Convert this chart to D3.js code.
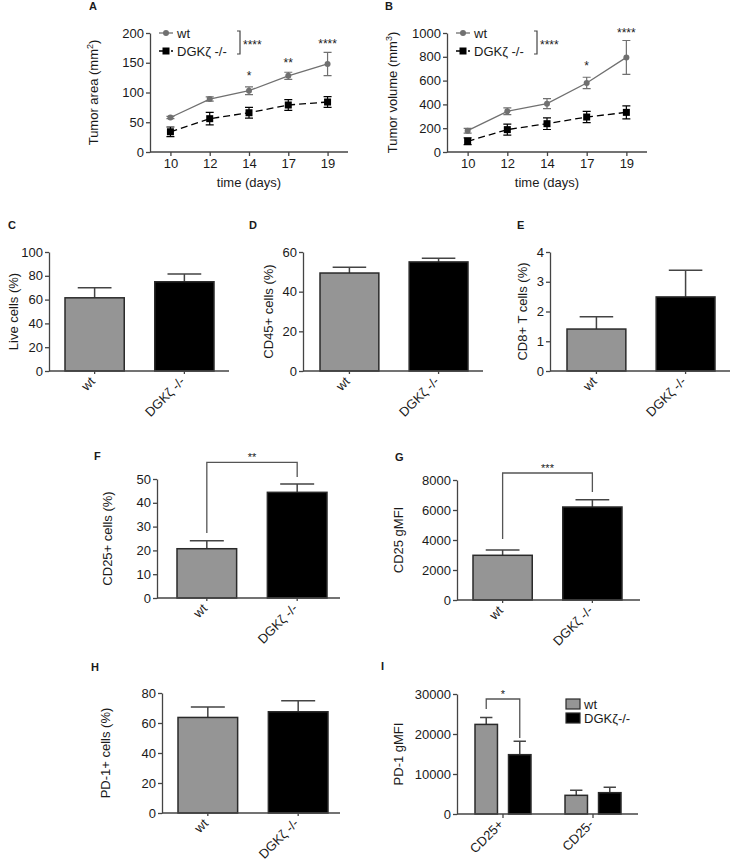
<!DOCTYPE html>
<html><head><meta charset="utf-8">
<script src="https://cdn.jsdelivr.net/npm/d3@7"></script>
<style>
body{margin:0;background:#fff}
svg{display:block}
text{font-family:"Liberation Sans",Arial,Helvetica,sans-serif;fill:#1a1a1a}
</style>
</head><body>
<svg id="c" width="731" height="861"></svg>
<script>
// ---------- DATA ----------
const days = ["10", "12", "14", "17", "19"];
const areaWt = [58, 89, 103, 128, 148];
const areaWtErr = [2, 3.5, 6.5, 6, 19.5];
const areaKo = [34, 56, 66, 79, 84];
const areaKoErr = [8, 10.5, 9, 9, 9];
const areaStars = ["", "", "*", "**", "****"];
const areaStarLevel = [null, null, 121, 143, 175];
const volWt = [179, 342, 406, 580, 795];
const volWtErr = [20, 28, 42, 48, 142];
const volKo = [90, 188, 238, 294, 333];
const volKoErr = [28, 46, 49, 47, 54];
const volStars = ["", "", "", "*", "****"];
const volStarLevel = [null, null, null, 690, 970];
const seriesNames = ["wt", "DGKζ -/-"];

const genotypes = ["wt", "DGKζ -/-"];
const liveCells = [61.5, 75];
const liveCellsErr = [8.5, 6.5];
const cd45Cells = [49.4, 55];
const cd45CellsErr = [2.9, 1.8];
const cd8Cells = [1.41, 2.49];
const cd8CellsErr = [0.41, 0.9];
const cd25Cells = [20.7, 44.4];
const cd25CellsErr = [3.4, 3.5];
const cd25Gmfi = [2980, 6200];
const cd25GmfiErr = [355, 490];
const pd1Cells = [63.7, 67.5];
const pd1CellsErr = [7, 7.4];

const pd1Groups = ["CD25+", "CD25-"];
const pd1GmfiWt = [22400, 4670];
const pd1GmfiWtErr = [1700, 1250];
const pd1GmfiKo = [14830, 5330];
const pd1GmfiKoErr = [3330, 1330];
const pd1Legend = ["wt", "DGKζ-/-"];

// ---------- STYLE ----------
const AX = "#444", GREY = "#959595", WTLINE = "#707070", ERR = "#444";
const FS = 13;
const svg = d3.select("#c");

function styleAxis(g) {
  g.selectAll("path.domain").attr("stroke", AX).attr("stroke-width", 1.3);
  g.selectAll(".tick line").attr("stroke", AX).attr("stroke-width", 1.3);
  g.selectAll(".tick text").attr("font-size", FS).attr("fill", "#1a1a1a")
    .style("font-family", '"Liberation Sans",Arial,sans-serif');
}
function letter(t, x, y) {
  svg.append("text").attr("x", x).attr("y", y).attr("font-size", 11)
    .attr("font-weight", "bold").text(t);
}
function yTitle(x, yc, parts) {
  const t = svg.append("text").attr("transform", `translate(${x},${yc}) rotate(-90)`)
    .attr("text-anchor", "middle").attr("dy", "0.35em").attr("font-size", FS);
  parts.forEach(p => {
    const s = t.append("tspan").text(p.t);
    if (p.sup) s.attr("font-size", 9).attr("dy", -5);
    if (p.after) s.attr("dy", 5);
  });
}

// ---------- LINE PANELS ----------
function linePanel(o) {
  const x = d3.scalePoint().domain(days).range([o.x0, o.x1]).padding(0.52);
  const y = d3.scaleLinear().domain([0, o.max]).range([o.yBot, o.yTop]);
  const gx = svg.append("g").attr("transform", `translate(0,${o.yBot})`)
    .call(d3.axisBottom(x).tickSize(4).tickPadding(3).tickSizeOuter(0));
  gx.select(".domain").attr("d", `M${o.x0},0H${o.x1}`);
  styleAxis(gx);
  const gy = svg.append("g").attr("transform", `translate(${o.x0},0)`)
    .call(d3.axisLeft(y).tickValues(o.ticks).tickFormat(d3.format("d")).tickSize(4).tickPadding(2).tickSizeOuter(0));
  styleAxis(gy);
  svg.append("text").attr("x", (o.x0 + o.x1) / 2).attr("y", o.yBot + 35)
    .attr("text-anchor", "middle").attr("font-size", FS).text("time (days)");
  yTitle(o.ylabelX, (o.yTop + o.yBot) / 2, o.ylabel);

  const series = [
    {v: o.wt, e: o.wtErr, color: WTLINE, dash: null, shape: "circle"},
    {v: o.ko, e: o.koErr, color: "#000", dash: "7,4", shape: "square"}
  ];
  series.forEach(s => {
    const line = d3.line().x((d, i) => x(days[i])).y(d => y(d));
    svg.append("path").attr("d", line(s.v)).attr("fill", "none")
      .attr("stroke", s.color).attr("stroke-width", 1.3).attr("stroke-dasharray", s.dash);
    s.v.forEach((v, i) => {
      const cx = x(days[i]);
      const t = y(v + s.e[i]), b = y(v - s.e[i]);
      svg.append("path").attr("d", `M${cx},${t}V${b}M${cx - 4},${t}H${cx + 4}M${cx - 4},${b}H${cx + 4}`)
        .attr("stroke", s.color).attr("stroke-width", 1.2).attr("fill", "none");
      if (s.shape === "circle")
        svg.append("circle").attr("cx", cx).attr("cy", y(v)).attr("r", 3).attr("fill", s.color);
      else
        svg.append("rect").attr("x", cx - 3.5).attr("y", y(v) - 3.5).attr("width", 7).attr("height", 7).attr("fill", s.color);
    });
  });
  o.stars.forEach((s, i) => {
    if (!s) return;
    svg.append("text").attr("x", x(days[i])).attr("y", y(o.starLevel[i]))
      .attr("text-anchor", "middle").attr("font-size", 12).text(s);
  });
  const lx = o.x0 + 9, ly = [o.yTop, o.yTop + 18];
  series.forEach((s, i) => {
    svg.append("line").attr("x1", lx).attr("x2", lx + 14).attr("y1", ly[i]).attr("y2", ly[i])
      .attr("stroke", s.color).attr("stroke-width", 1.3).attr("stroke-dasharray", s.dash ? "4,2" : null);
    if (s.shape === "circle")
      svg.append("circle").attr("cx", lx + 7).attr("cy", ly[i]).attr("r", 3).attr("fill", s.color);
    else
      svg.append("rect").attr("x", lx + 3.5).attr("y", ly[i] - 3.5).attr("width", 7).attr("height", 7).attr("fill", s.color);
    svg.append("text").attr("x", lx + 18).attr("y", ly[i]).attr("dy", "0.35em")
      .attr("font-size", FS).text(seriesNames[i]);
  });
  const bx = o.x0 + 90;
  svg.append("path").attr("d", `M${bx - 3},${o.yTop - 2}H${bx}V${o.yTop + 21}H${bx - 3}`)
    .attr("fill", "none").attr("stroke", AX).attr("stroke-width", 1.2);
  svg.append("text").attr("x", bx + 3).attr("y", o.yTop + 16).attr("font-size", 12).text("****");
}

linePanel({x0: 150, x1: 348, yTop: 33, yBot: 152, max: 200, ticks: [0, 50, 100, 150, 200],
  wt: areaWt, wtErr: areaWtErr, ko: areaKo, koErr: areaKoErr, stars: areaStars, starLevel: areaStarLevel,
  ylabelX: 93, ylabel: [{t: "Tumor area (mm"}, {t: "2", sup: true}, {t: ")", after: true}]});
linePanel({x0: 447, x1: 647, yTop: 33, yBot: 152, max: 1000, ticks: [0, 200, 400, 600, 800, 1000],
  wt: volWt, wtErr: volWtErr, ko: volKo, koErr: volKoErr, stars: volStars, starLevel: volStarLevel,
  ylabelX: 392, ylabel: [{t: "Tumor volume (mm"}, {t: "3", sup: true}, {t: ")", after: true}]});
letter("A", 89, 10);
letter("B", 385, 10);

// ---------- BAR PANELS ----------
function errBar(cx, yTop, yErr, w) {
  svg.append("path").attr("d", `M${cx},${yTop}V${yErr}M${cx - w / 2},${yErr}H${cx + w / 2}`)
    .attr("stroke", ERR).attr("stroke-width", 1.5).attr("fill", "none");
}
function rotLabels(g) {
  g.selectAll(".tick text").attr("text-anchor", "end").attr("x", 0).attr("y", 0)
    .attr("dy", "0.35em").attr("transform", "translate(-2,8) rotate(-45)");
}
function barPanel(o) {
  const x = d3.scaleBand().domain(genotypes).range(o.band).paddingInner(0.34).paddingOuter(0);
  const y = d3.scaleLinear().domain([0, o.max]).range([o.yBot, o.yTop]);
  const bw = x.bandwidth();
  o.vals.forEach((v, i) => {
    const cx = x(genotypes[i]) + bw / 2;
    errBar(cx, y(v), y(v + o.errs[i]), bw * 0.57);
    svg.append("rect").attr("x", x(genotypes[i])).attr("y", y(v)).attr("width", bw)
      .attr("height", y(0) - y(v)).attr("fill", i === 0 ? GREY : "#000")
      .attr("stroke", "#2a2a2a").attr("stroke-width", 1.5);
  });
  const gx = svg.append("g").attr("transform", `translate(0,${o.yBot})`)
    .call(d3.axisBottom(x).tickSize(3).tickSizeOuter(0));
  gx.select(".domain").attr("d", `M${o.x0},0H${o.x1}`);
  styleAxis(gx); rotLabels(gx);
  const gy = svg.append("g").attr("transform", `translate(${o.x0},0)`)
    .call(d3.axisLeft(y).tickValues(o.ticks).tickFormat(d3.format("d")).tickSize(4).tickPadding(2).tickSizeOuter(0));
  styleAxis(gy);
  yTitle(o.ylabelX, (o.yTop + o.yBot) / 2, [{t: o.ylabel}]);
  if (o.sig) {
    const xl = x(genotypes[0]) + bw / 2, xr = x(genotypes[1]) + bw / 2;
    svg.append("path").attr("d", `M${xl},${y(o.sig.left)}V${y(o.sig.top)}H${xr}V${y(o.sig.right)}`)
      .attr("fill", "none").attr("stroke", "#555").attr("stroke-width", 1.3);
    svg.append("text").attr("x", (xl + xr) / 2).attr("y", y(o.sig.top) - 1)
      .attr("text-anchor", "middle").attr("font-size", 11).text(o.sig.label);
  }
}

barPanel({x0: 49, x1: 229, band: [65, 214], yTop: 252, yBot: 371, max: 100, ticks: [0, 20, 40, 60, 80, 100],
  vals: liveCells, errs: liveCellsErr, ylabel: "Live cells (%)", ylabelX: 13});
barPanel({x0: 303, x1: 483, band: [320, 468], yTop: 252, yBot: 371, max: 60, ticks: [0, 20, 40, 60],
  vals: cd45Cells, errs: cd45CellsErr, ylabel: "CD45+ cells (%)", ylabelX: 268});
barPanel({x0: 550, x1: 730, band: [567, 715], yTop: 252, yBot: 371, max: 4, ticks: [0, 1, 2, 3, 4],
  vals: cd8Cells, errs: cd8CellsErr, ylabel: "CD8+ T cells (%)", ylabelX: 522});
barPanel({x0: 157, x1: 340, band: [177, 327], yTop: 479, yBot: 598, max: 50, ticks: [0, 10, 20, 30, 40, 50],
  vals: cd25Cells, errs: cd25CellsErr, ylabel: "CD25+ cells (%)", ylabelX: 107,
  sig: {top: 57, left: 27.3, right: 50.8, label: "**"}});
barPanel({x0: 457, x1: 640, band: [473, 622], yTop: 480, yBot: 600, max: 8000, ticks: [0, 2000, 4000, 6000, 8000],
  vals: cd25Gmfi, errs: cd25GmfiErr, ylabel: "CD25 gMFI", ylabelX: 398,
  sig: {top: 8467, left: 4067, right: 7200, label: "***"}});
barPanel({x0: 162, x1: 340, band: [178, 328], yTop: 693, yBot: 813, max: 80, ticks: [0, 20, 40, 60, 80],
  vals: pd1Cells, errs: pd1CellsErr, ylabel: "PD-1+ cells (%)", ylabelX: 105});

// ---------- PANEL I ----------
(function () {
  const x0 = 457, x1 = 638, yTop = 694, yBot = 814;
  const xg = d3.scaleBand().domain(pd1Groups).range([475, 621]).paddingInner(0.378).paddingOuter(0);
  const xs = d3.scaleBand().domain([0, 1]).range([0, xg.bandwidth()]).paddingInner(0.33);
  const y = d3.scaleLinear().domain([0, 30000]).range([yBot, yTop]);
  const bw = xs.bandwidth();
  const sets = [[pd1GmfiWt, pd1GmfiWtErr, GREY], [pd1GmfiKo, pd1GmfiKoErr, "#000"]];
  pd1Groups.forEach((g, gi) => {
    sets.forEach((s, si) => {
      const bx = xg(g) + xs(si), v = s[0][gi];
      errBar(bx + bw / 2, y(v), y(v + s[1][gi]), bw * 0.55);
      svg.append("rect").attr("x", bx).attr("y", y(v)).attr("width", bw).attr("height", y(0) - y(v))
        .attr("fill", s[2]).attr("stroke", "#2a2a2a").attr("stroke-width", 1.5);
    });
  });
  const gx = svg.append("g").attr("transform", `translate(0,${yBot})`)
    .call(d3.axisBottom(xg).tickSize(4).tickSizeOuter(0));
  gx.select(".domain").attr("d", `M${x0},0H${x1}`);
  styleAxis(gx); rotLabels(gx);
  const gy = svg.append("g").attr("transform", `translate(${x0},0)`)
    .call(d3.axisLeft(y).tickValues([0, 10000, 20000, 30000]).tickFormat(d3.format("d")).tickSize(4).tickPadding(2).tickSizeOuter(0));
  styleAxis(gy);
  yTitle(398, (yTop + yBot) / 2, [{t: "PD-1 gMFI"}]);
  const xl = xg(pd1Groups[0]) + xs(0) + bw / 2, xr = xg(pd1Groups[0]) + xs(1) + bw / 2;
  svg.append("path").attr("d", `M${xl},${y(26250)}V${y(28750)}H${xr}V${y(19000)}`)
    .attr("fill", "none").attr("stroke", "#555").attr("stroke-width", 1.3);
  svg.append("text").attr("x", (xl + xr) / 2).attr("y", y(28750) - 1)
    .attr("text-anchor", "middle").attr("font-size", 11).text("*");
  const lx = 566, ly = [699, 713];
  [GREY, "#000"].forEach((c, i) => {
    svg.append("rect").attr("x", lx).attr("y", ly[i]).attr("width", 14).attr("height", 10)
      .attr("fill", c).attr("stroke", "#2a2a2a").attr("stroke-width", 1.2);
    svg.append("text").attr("x", lx + 18).attr("y", ly[i] + 5).attr("dy", "0.35em")
      .attr("font-size", FS).text(pd1Legend[i]);
  });
})();

letter("C", 8, 229);
letter("D", 249, 229);
letter("E", 517, 229);
letter("F", 94, 460);
letter("G", 395, 461);
letter("H", 91, 671);
letter("I", 381, 670);
</script>
</body></html>
